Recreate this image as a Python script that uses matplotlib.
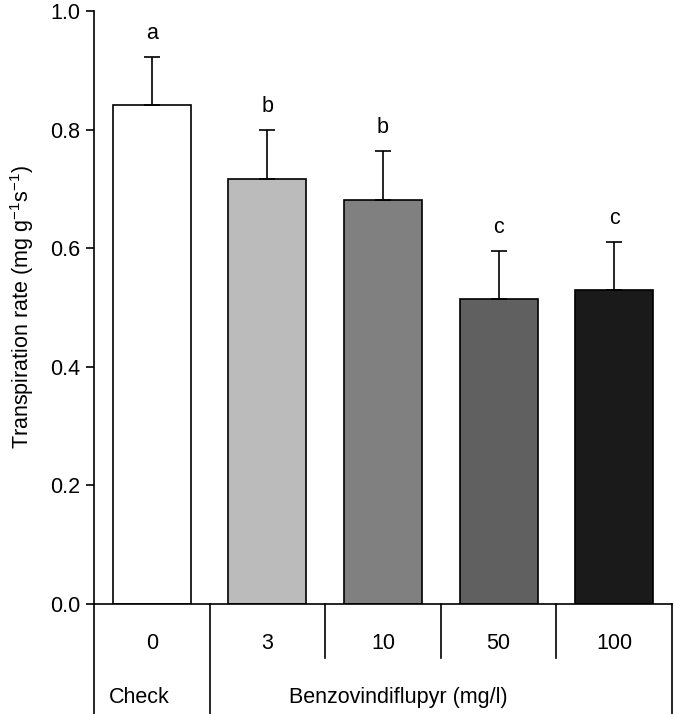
import numpy as np
import matplotlib
matplotlib.use("Agg")
import matplotlib.pyplot as plt

plt.rcParams['font.family'] = ['Liberation Sans', 'DejaVu Sans']
plt.rcParams['mathtext.fontset'] = 'custom'
plt.rcParams['mathtext.rm'] = 'Liberation Sans'
FS = 15.5

doses = ["0", "3", "10", "50", "100"]
means = [0.841, 0.717, 0.681, 0.514, 0.530]
errs = [0.081, 0.082, 0.083, 0.081, 0.080]
letters = ["a", "b", "b", "c", "c"]
colors = ["#ffffff", "#bbbbbb", "#808080", "#606060", "#1a1a1a"]

fig = plt.figure(figsize=(6.74, 7.14), dpi=100)
ax = fig.add_axes([94/674, 1-604/714, (672-94)/674, (604-11)/714])

x = np.arange(len(doses))
ax.bar(x, means, width=0.675, color=colors, edgecolor="black", linewidth=1.2, zorder=2)
ax.errorbar(x, means, yerr=[np.zeros(len(errs)), errs], fmt="none",
            ecolor="black", elinewidth=1.2, capsize=5.5, capthick=1.2, zorder=3)
for xi, m, e, l in zip(x, means, errs, letters):
    ax.text(xi, m + e + 0.031, l, ha="center", va="baseline", fontsize=FS)

ax.set_xlim(-0.5, 4.5)
ax.set_ylim(0, 1.0)
ax.set_yticks(np.arange(0, 1.01, 0.2))
ax.set_yticklabels([f"{v:.1f}" for v in np.arange(0, 1.01, 0.2)], fontsize=FS)
ax.tick_params(axis="y", direction="out", length=6, width=1.2, pad=4)
ax.set_xticks([])
for s in ["top", "right"]:
    ax.spines[s].set_visible(False)
for s in ["left", "bottom"]:
    ax.spines[s].set_linewidth(1.2)
ax.set_ylabel(r"Transpiration rate (mg g$^{\mathregular{-1}}$s$^{\mathregular{-1}}$)",
              fontsize=FS, labelpad=10)

# table below the axis
ybot = -0.19
yrow = -0.091
for xv in [-0.5, 0.5, 4.5]:
    ax.plot([xv, xv], [0, ybot], color="black", lw=1.2, clip_on=False)
for xv in [1.5, 2.5, 3.5]:
    ax.plot([xv, xv], [0, yrow], color="black", lw=1.2, clip_on=False)
for xi, d in zip(x, doses):
    ax.text(xi, -0.066, d, ha="center", va="center", fontsize=FS)
ax.text(-0.11, -0.1585, "Check", ha="center", va="center", fontsize=FS)
ax.text(2.13, -0.1585, "Benzovindiflupyr (mg/l)", ha="center", va="center", fontsize=FS)

fig.savefig("out.png", dpi=100)
